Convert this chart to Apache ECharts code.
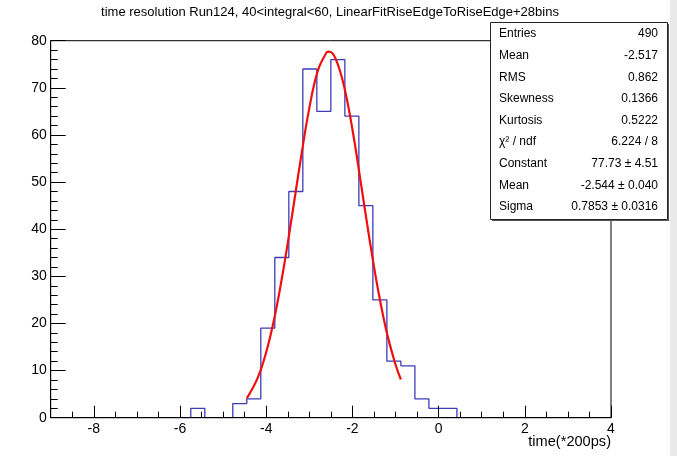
<!DOCTYPE html>
<html><head><meta charset="utf-8">
<script src="https://cdn.jsdelivr.net/npm/echarts@6/dist/echarts.min.js"></script>
<style>html,body{margin:0;padding:0;background:#fff}#c{width:677px;height:456px}</style>
</head><body><div id="c"></div>
<script>
// ---- data ----
const titleText = 'time resolution Run124, 40<integral<60, LinearFitRiseEdgeToRiseEdge+28bins';
const xAxisTitle = 'time(*200ps)';
const binLow = -9;
const binHigh = 4;
const binWidth = 0.325;
const binCounts = [0,0,0,0,0,0,0,0,0,0, 2,0,0,3,4,19,34,48,74,65, 76,64,45,25,12,11,4,2,2,0, 0,0,0,0,0,0,0,0,0,0];
const fitX = [-4.45,-4.2,-4.0,-3.8,-3.6,-3.4,-3.2,-3.0,-2.8,-2.6,-2.544,-2.4,-2.2,-2.0,-1.8,-1.6,-1.4,-1.2,-1.0,-0.875];
const fitY = [4.1,8.4,13.9,21.6,31.5,42.9,54.8,65.7,73.7,77.5,77.7,76.4,70.6,61.2,49.6,37.7,26.9,18.0,11.3,8.1];
const xMajorTicks = [-8,-6,-4,-2,0,2,4];
const yMin = 0, yMax = 80, yStep = 10;
const statsLabels = ['Entries','Mean','RMS','Skewness','Kurtosis','\u03c7\u00b2 / ndf','Constant','Mean','Sigma'];
const statsValues = ['490','-2.517','0.862','0.1366','0.5222','6.224 / 8','77.73 \u00b1 4.51','-2.544 \u00b1 0.040','0.7853 \u00b1 0.0316'];

// ---- build ----
const histData = binCounts.map((c, i) => [binLow + i * binWidth, c]);
histData.push([binLow + binCounts.length * binWidth, 0]);
const fitData = fitX.map((x, i) => [x, fitY[i]]);

const FONT = '"Liberation Sans", Arial, sans-serif';
function txt(text, x, y, size, align, extra) {
  return Object.assign({
    type: 'text', x: x, y: y, z: 100,
    style: { text: text, font: size + 'px ' + FONT, fill: '#000',
      align: align, verticalAlign: 'middle', textAlign: align, textVerticalAlign: 'middle' }
  }, extra || {});
}
const graphics = [];
graphics.push({ type: 'rect', shape: { x: 670, y: 0, width: 7, height: 456 }, style: { fill: '#e9e9e9' }, z: 90 });
graphics.push(txt(titleText, 330, 12, 13, 'center'));
graphics.push(txt(xAxisTitle, 611, 442, 14.6, 'right'));
// stats box
graphics.push({ type: 'rect', shape: { x: 490.5, y: 22.5, width: 177, height: 197 }, style: { fill: '#fff', stroke: '#222', lineWidth: 1 }, z: 95 });
graphics.push({ type: 'line', shape: { x1: 668.5, y1: 24, x2: 668.5, y2: 221 }, style: { stroke: '#555', lineWidth: 1 }, z: 95 });
graphics.push({ type: 'line', shape: { x1: 492, y1: 220.5, x2: 669, y2: 220.5 }, style: { stroke: '#555', lineWidth: 1 }, z: 95 });
statsLabels.forEach((l, i) => {
  const y = 34 + 21.6 * i;
  graphics.push(txt(l, 499, y, 12, 'left'));
  graphics.push(txt(statsValues[i], 658, y, 12, 'right'));
});

const chart = echarts.init(document.getElementById('c'), null, { renderer: 'canvas' });
chart.setOption({
  animation: false,
  backgroundColor: '#fff',
  grid: { left: 50.7, top: 40.7, width: 560.3, height: 377, show: true, borderColor: '#000', borderWidth: 1, backgroundColor: '#fff' },
  xAxis: [
    { type: 'value', min: binLow, max: binHigh, interval: 0.5, position: 'bottom', z: 5,
      axisLine: { show: true, onZero: false, lineStyle: { color: '#000', width: 1 } },
      axisTick: { show: true, inside: true, length: 6, lineStyle: { color: '#000' } },
      axisLabel: { show: false }, splitLine: { show: false } },
    { type: 'value', min: binLow, max: binHigh, position: 'bottom', z: 5,
      axisLine: { show: false, onZero: false },
      axisTick: { show: true, inside: true, length: 12, customValues: xMajorTicks, lineStyle: { color: '#000' } },
      axisLabel: { show: true, customValues: xMajorTicks, color: '#000', fontSize: 14, fontFamily: FONT, margin: 4 },
      splitLine: { show: false } }
  ],
  yAxis: { type: 'value', min: yMin, max: yMax, interval: yStep, z: 5,
    axisLine: { show: true, onZero: false, lineStyle: { color: '#000', width: 1 } },
    axisTick: { show: true, inside: true, length: 15, lineStyle: { color: '#000' } },
    minorTick: { show: true, splitNumber: 5, length: 7, lineStyle: { color: '#000' } },
    axisLabel: { color: '#000', fontSize: 14, fontFamily: FONT, margin: 4 },
    splitLine: { show: false }, minorSplitLine: { show: false } },
  series: [
    { type: 'line', xAxisIndex: 0, data: histData, step: 'end', symbol: 'none', z: 2,
      lineStyle: { color: '#3c3cb8', width: 1.3 } },
    { type: 'line', xAxisIndex: 0, data: fitData, smooth: 0.4, symbol: 'none', z: 3,
      lineStyle: { color: '#ee1010', width: 2.2 } }
  ],
  graphic: graphics
});
</script>
</body></html>
